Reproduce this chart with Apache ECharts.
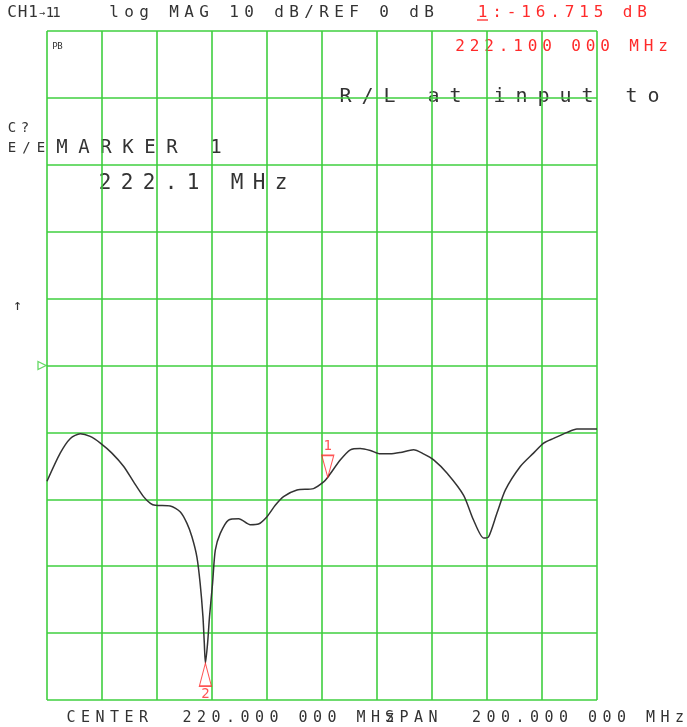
<!DOCTYPE html>
<html>
<head>
<meta charset="utf-8">
<script src="https://cdn.jsdelivr.net/npm/echarts@6/dist/echarts.min.js"></script>
<style>
html,body{margin:0;padding:0;background:#fff;}
#c{width:687px;height:727px;}
</style>
</head>
<body>
<div id="c"></div>
<script>
// ---- data ----
var freqMHz = [120.0,124.8,128.5,132.1,135.7,139.4,143.6,147.9,151.5,155.1,157.6,159.4,164.8,168.5,170.9,172.7,174.5,175.7,176.7,177.2,177.6,178.4,179.1,180.2,181.2,183.0,186.0,189.7,193.9,196.9,200.0,203.0,206.0,210.9,216.9,220.6,222.1,226.7,230.3,233.9,237.6,241.2,244.8,248.5,253.3,256.9,260.6,265.5,271.5,275.1,278.8,280.6,283.6,286.7,292.1,296.9,300.6,304.2,309.1,312.7,320.0];
var magDb = [-17.3,-13.1,-10.9,-10.2,-10.6,-11.6,-13.1,-15.1,-17.4,-19.6,-20.6,-20.9,-21.0,-21.9,-23.6,-25.6,-28.6,-32.6,-37.5,-41.5,-44.5,-41.5,-37.5,-32.6,-27.6,-25.1,-23.1,-22.9,-23.8,-23.7,-22.6,-20.9,-19.6,-18.6,-18.4,-17.4,-16.7,-14.1,-12.6,-12.4,-12.7,-13.2,-13.2,-13.0,-12.6,-13.2,-14.1,-16.1,-19.4,-23.1,-25.8,-25.6,-22.1,-18.6,-15.1,-13.1,-11.6,-10.9,-10.0,-9.5,-9.5];
var markerFreq = [222.1, 177.6];
var markerDb = [-16.715, -44.5];
var markerNames = ['1', '2'];
var refFreq = 120, refDb = 0;
var xMin = 120, xMax = 320, xStep = 20;
var yMin = -50, yMax = 50, yStep = 10;

var lineData = freqMHz.map(function (f, i) { return [f, magDb[i]]; });

var GREEN = '#3fcf3f', RED = '#ff2a2a', INK = '#333333';
var FONT = '"DejaVu Sans Mono", "Liberation Mono", monospace';

function chars(str, cx0, cy, pitch, size, color) {
  var out = [];
  for (var i = 0; i < str.length; i++) {
    var ch = str[i];
    if (ch === ' ') continue;
    out.push({
      type: 'text', x: cx0 + i * pitch, y: cy, silent: true,
      style: { text: ch, font: size + 'px ' + FONT, fill: color,
               align: 'center', verticalAlign: 'middle',
               textAlign: 'center', textVerticalAlign: 'middle' }
    });
  }
  return out;
}

var texts = [].concat(
  chars('CH1', 12, 13, 10.5, 16, INK),
  chars('\u2192', 42, 13, 10, 10, INK),
  chars('11', 50, 13, 6.5, 14, INK),
  chars('log MAG 10 dB/REF 0 dB', 114, 13, 15, 16, INK),
  chars('1:-16.715 dB', 482.5, 13, 14.5, 16, RED),
  chars('222.100 000 MHz', 460, 46.5, 14.5, 16, RED),
  chars('PB', 55, 47, 5, 9, INK),
  chars('R/L at input to', 345.5, 96.7, 22, 20, INK),
  chars('C?', 12, 128, 13, 14, INK),
  chars('E/E', 12, 148, 14.5, 14, INK),
  chars('MARKER 1', 62, 148.3, 22, 19, INK),
  chars('222.1 MHz', 105, 183.3, 22, 21, INK),
  chars('\u2191', 17.5, 306, 10, 15, INK),
  chars('CENTER  220.000 000 MHz', 71, 718, 14.5, 15, INK),
  chars('SPAN  200.000 000 MHz', 389.5, 718, 14.5, 15, INK)
);
texts.push({ type: 'line', silent: true, shape: { x1: 477, y1: 20, x2: 488, y2: 20 }, style: { stroke: RED, lineWidth: 1.3 } });

var chart = echarts.init(document.getElementById('c'), null, { renderer: 'canvas' });
chart.setOption({
  animation: false,
  backgroundColor: '#ffffff',
  grid: { left: 47, right: 90, top: 31, bottom: 27, containLabel: false },
  xAxis: {
    type: 'value', min: xMin, max: xMax, interval: xStep,
    axisLine: { show: false }, axisTick: { show: false }, axisLabel: { show: false },
    splitLine: { show: true, showMinLine: true, showMaxLine: true, lineStyle: { color: GREEN, width: 1.6 } }
  },
  yAxis: {
    type: 'value', min: yMin, max: yMax, interval: yStep,
    axisLine: { show: false }, axisTick: { show: false }, axisLabel: { show: false },
    splitLine: { show: true, showMinLine: true, showMaxLine: true, lineStyle: { color: GREEN, width: 1.6 } }
  },
  series: [
    {
      type: 'line', data: lineData, showSymbol: false, smooth: 0.25,
      lineStyle: { color: INK, width: 1.5 }, z: 3, silent: true
    },
    {
      type: 'scatter', silent: true, z: 5, clip: false,
      data: [
        { value: [markerFreq[0], markerDb[0]], symbol: 'path://M0,0 L12,0 L6,22 Z', symbolSize: [12, 22], symbolOffset: [0, -11],
          label: { show: true, formatter: markerNames[0], position: 'top', distance: 1, color: RED, fontSize: 14, fontFamily: FONT } },
        { value: [markerFreq[1], markerDb[1]], symbol: 'path://M6,0 L12,23 L0,23 Z', symbolSize: [12, 23], symbolOffset: [0, 11.5],
          label: { show: true, formatter: markerNames[1], position: 'bottom', distance: 0, color: RED, fontSize: 14, fontFamily: FONT } }
      ],
      itemStyle: { color: 'rgba(0,0,0,0)', borderColor: RED, borderWidth: 1.3 }
    },
    {
      type: 'scatter', silent: true, z: 5, clip: false,
      data: [[refFreq, refDb]],
      symbol: 'path://M0,0 L8,4 L0,8 Z', symbolSize: [8, 8], symbolOffset: [-5, 0],
      itemStyle: { color: 'rgba(0,0,0,0)', borderColor: GREEN, borderWidth: 1.3 }
    }
  ],
  graphic: { elements: texts }
});
</script>
</body>
</html>
